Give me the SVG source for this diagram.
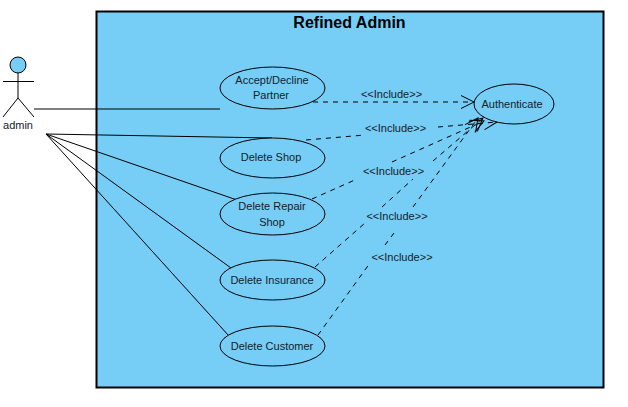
<svg xmlns="http://www.w3.org/2000/svg" width="628" height="407" viewBox="0 0 628 407">
<defs>
<marker id="open" markerUnits="userSpaceOnUse" markerWidth="16" markerHeight="14" refX="13" refY="6.500" orient="auto" overflow="visible"><path d="M0 0 L13 6.500 L0 13" fill="none" stroke="#000" stroke-width="1"/></marker>
</defs>
<style>
text{font-family:"Liberation Sans",Arial,sans-serif;font-size:11px;fill:#15222a;text-anchor:middle}
.uc{fill:#76cdf6;stroke:#000;stroke-width:1}
.a{fill:none;stroke:#000;stroke-width:1}
.d{fill:none;stroke:#000;stroke-width:1;stroke-dasharray:5 5}
.e{marker-end:url(#open)}
</style>
<rect width="628" height="407" fill="#fff"/>
<g id="system">
<rect x="96.500" y="11.500" width="507" height="376" fill="#76cdf6" stroke="#000" stroke-width="2"/>
<text x="349.500" y="28" style="font-size:16px;font-weight:bold;fill:#000">Refined Admin</text>
</g>
<g id="connectors">
<path class="a" d="M34 109H220"/>
<path class="a" d="M46 134L272 138"/>
<path class="a" d="M46 134L237 200"/>
<path class="a" d="M46 134L231 268"/>
<path class="a" d="M46 134L229 336"/>
<path class="d e" d="M313 102L474 102"/>
<path class="d" d="M306 140L365 135"/>
<path class="d e" d="M438 127L497 122"/>
<path class="d" d="M312 199L357 179"/>
<path class="d e" d="M392 162L484 121"/>
<path class="d" d="M315 267L365 223"/>
<path class="d" d="M382 207L413 179"/>
<path class="d e" d="M433 161L483 118"/>
<path class="d" d="M318 335L370 263"/>
<path class="d" d="M385 245L397 229"/>
<path class="d e" d="M413 207L478 118"/>
<g>
<text x="391.500" y="98">&lt;&lt;Include&gt;&gt;</text>
<text x="395.500" y="132">&lt;&lt;Include&gt;&gt;</text>
<text x="393.500" y="175">&lt;&lt;Include&gt;&gt;</text>
<text x="397" y="220">&lt;&lt;Include&gt;&gt;</text>
<text x="402" y="261">&lt;&lt;Include&gt;&gt;</text>
</g>
</g>
<g id="admin" fill="none" stroke="#000">
<circle cx="18" cy="65" r="8" fill="#76cdf6" stroke-width="1"/>
<path d="M18 73V98M3 81.500H34M18 98L3 117M18 98L34 117" stroke-width="1"/>
<text x="18" y="129" stroke="none">admin</text>
</g>
<g id="accept"><ellipse class="uc" cx="272.500" cy="88" rx="52.500" ry="21"/><text x="272" y="84">Accept/Decline</text><text x="271" y="99">Partner</text></g>
<g id="shop"><ellipse class="uc" cx="272.500" cy="158" rx="52.500" ry="20"/><text x="271" y="161">Delete Shop</text></g>
<g id="repair"><ellipse class="uc" cx="272.500" cy="214" rx="52.500" ry="21"/><text x="272" y="210">Delete Repair</text><text x="272" y="226">Shop</text></g>
<g id="insurance"><ellipse class="uc" cx="272.500" cy="280" rx="52.500" ry="20"/><text x="272" y="284">Delete Insurance</text></g>
<g id="customer"><ellipse class="uc" cx="272.500" cy="346" rx="52.500" ry="20"/><text x="272" y="350">Delete Customer</text></g>
<g id="authenticate"><ellipse class="uc" cx="514" cy="104" rx="40" ry="20"/><text x="512" y="108">Authenticate</text></g>
</svg>
